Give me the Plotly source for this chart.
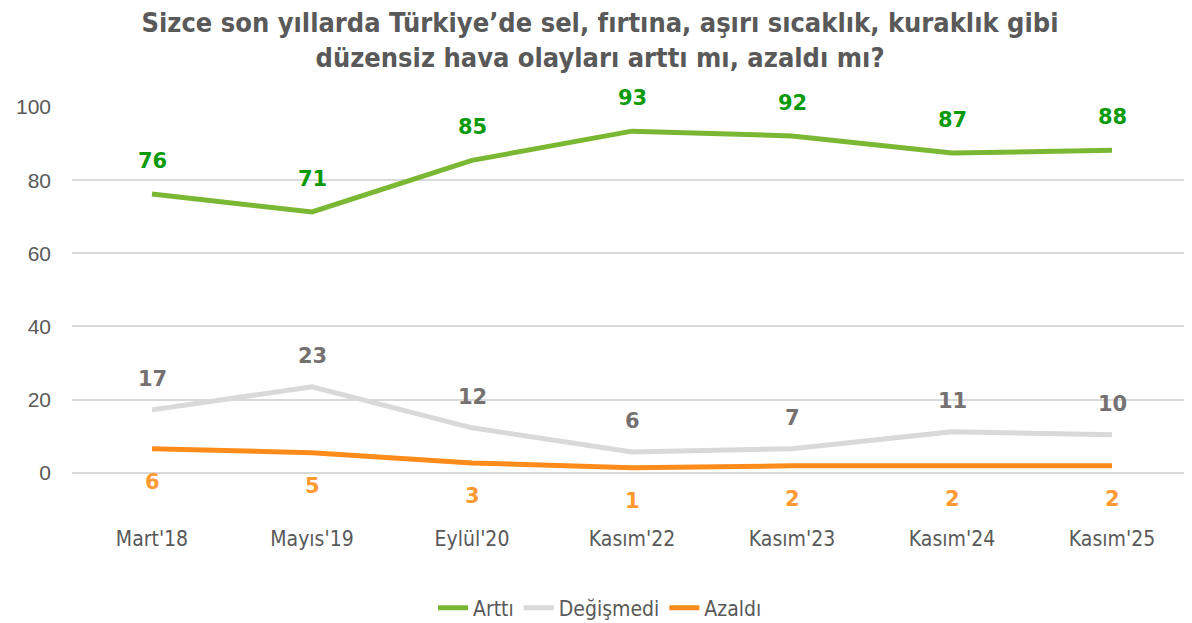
import plotly.graph_objects as go

categories = ["Mart'18", "Mayıs'19", "Eylül'20", "Kasım'22", "Kasım'23", "Kasım'24", "Kasım'25"]
arttı = [76.2, 71.3, 85.4, 93.4, 92.1, 87.4, 88.2]
arttı_labels = ["76", "71", "85", "93", "92", "87", "88"]
degismedi = [17.2, 23.5, 12.3, 5.7, 6.6, 11.2, 10.4]
degismedi_labels = ["17", "23", "12", "6", "7", "11", "10"]
azaldı = [6.6, 5.5, 2.7, 1.4, 1.9, 1.9, 1.9]
azaldı_labels = ["6", "5", "3", "1", "2", "2", "2"]

title_text = "Sizce son yıllarda Türkiye’de sel, fırtına, aşırı sıcaklık, kuraklık gibi<br>düzensiz hava olayları arttı mı, azaldı mı?"

series = [
    ("Arttı", arttı, arttı_labels, "#7AB834", "#0A9A0A", 33),
    ("Değişmedi", degismedi, degismedi_labels, "#D9D9D9", "#767171", 31),
    ("Azaldı", azaldı, azaldı_labels, "#FF8C1A", "#FF9A33", -33),
]

W, H = 1184, 615  # page body adds 8px offset

fig = go.Figure()
annotations = []
for name, vals, labs, lc, tc, shift in series:
    fig.add_trace(go.Scatter(
        x=categories, y=vals, name=name, mode="lines",
        line=dict(color=lc, width=5),
    ))
    for c, v, t in zip(categories, vals, labs):
        annotations.append(dict(
            x=c, y=v, text=t, showarrow=False, yshift=shift,
            font=dict(family="DejaVu Sans", size=21, color=tc, weight="bold"),
        ))

fig.update_layout(
    width=W, height=H,
    paper_bgcolor="white", plot_bgcolor="white",
    margin=dict(l=64, r=0, t=99, b=99),
    title=dict(
        text=title_text, x=0.5, xanchor="center", xref="container",
        yref="container", y=1 - 24 / H, yanchor="middle",
        font=dict(family="DejaVu Sans Condensed", size=27, color="#595959", weight="bold"),
    ),
    xaxis=dict(
        type="category", range=[-0.5, 6.5], showgrid=False, showline=False,
        ticks="", tickfont=dict(family="DejaVu Sans Condensed", size=21, color="#595959"),
    ),
    yaxis=dict(
        range=[-14, 100], tickvals=[0, 20, 40, 60, 80, 100], showgrid=True,
        gridcolor="#D9D9D9", gridwidth=1.5, zeroline=True, zerolinecolor="#D9D9D9",
        zerolinewidth=1.5, ticks="", ticklabelstandoff=20,
        tickfont=dict(family="Liberation Sans", size=21, color="#595959"),
    ),
    legend=dict(
        orientation="h", x=0.5, xanchor="center", xref="container",
        yref="container", y=15 / H, yanchor="middle",
        font=dict(family="DejaVu Sans Condensed", size=21, color="#595959"),
    ),
    annotations=annotations,
)

fig.write_html("out.html")
